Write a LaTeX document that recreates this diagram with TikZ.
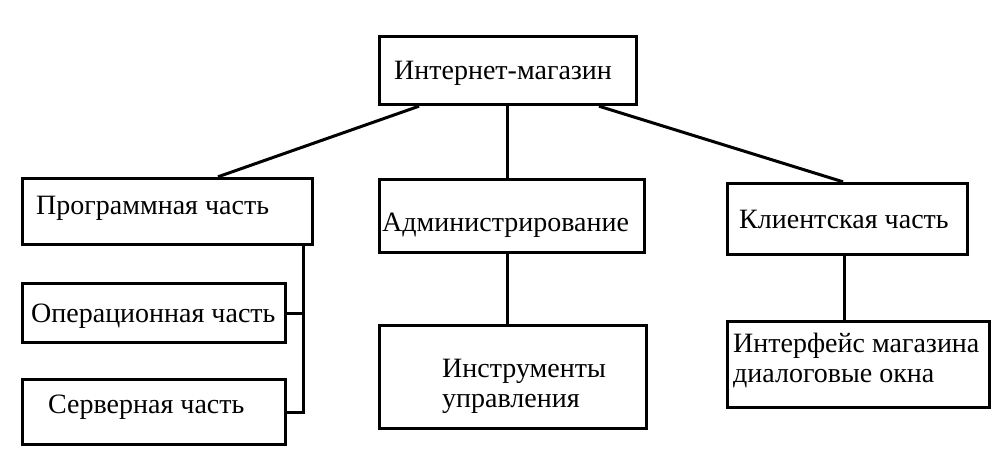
\documentclass[tikz,border=0pt]{standalone}
\usepackage{fontspec}
\setmainfont{Liberation Serif}
\begin{document}
\begin{tikzpicture}[x=1pt,y=-1pt,
  box/.style={draw=black,line width=3.4pt,rectangle,inner sep=0pt,fill=white},
  conn/.style={draw=black,line width=3pt},
  lbl/.style={anchor=base west,inner sep=0pt,font=\fontsize{28}{30}\selectfont,align=left}]
\useasboundingbox[fill=white] (0,0) rectangle (1005,459);
% boxes
\node[box,minimum width=257pt,minimum height=68pt] (top) at (508,70.5) {};
\node[box,minimum width=290pt,minimum height=66pt] (prog) at (167.5,211.5) {};
\node[box,minimum width=265pt,minimum height=73pt] (admin) at (512,216) {};
\node[box,minimum width=240pt,minimum height=71pt] (client) at (847.5,219) {};
\node[box,minimum width=263pt,minimum height=59pt] (oper) at (154,313) {};
\node[box,minimum width=263pt,minimum height=65pt] (serv) at (154,412) {};
\node[box,minimum width=267pt,minimum height=103pt] (instr) at (513,377) {};
\node[box,minimum width=262pt,minimum height=86pt] (iface) at (858.5,364.5) {};
% labels
\node[lbl] (ttop) at (394,79) {Интернет-магазин};
\node[lbl] (tprog) at (36,214) {Программная часть};
\node[lbl] (toper) at (31,322) {Операционная часть};
\node[lbl] (tserv) at (48,413) {Серверная часть};
\node[lbl] (tadmin) at (382,231) {Администрирование};
\node[lbl] (tinstr) at (442,407) {Инструменты\\управления};
\node[lbl] (tclient) at (739,228) {Клиентская часть};
\node[lbl] (tiface) at (733,382) {Интерфейс магазина\\диалоговые окна};
% connectors
\coordinate (bus) at (303,0);
\draw[conn] ([xshift=-89pt]top.south) -- ([xshift=50.5pt]prog.north);
\draw[conn] ([xshift=-1pt]top.south) -- ([xshift=-5pt]admin.north);
\draw[conn] ([xshift=91pt]top.south) -- ([xshift=-4.5pt]client.north);
\draw[conn] (prog.south -| bus) |- (serv.east);
\draw[conn] (oper.east) -- (oper.east -| bus);
\draw[conn] ([xshift=-5pt]admin.south) -- ([xshift=-6pt]instr.north);
\draw[conn] ([xshift=-3.5pt]client.south) -- ([xshift=-14.5pt]iface.north);
\end{tikzpicture}
\end{document}
